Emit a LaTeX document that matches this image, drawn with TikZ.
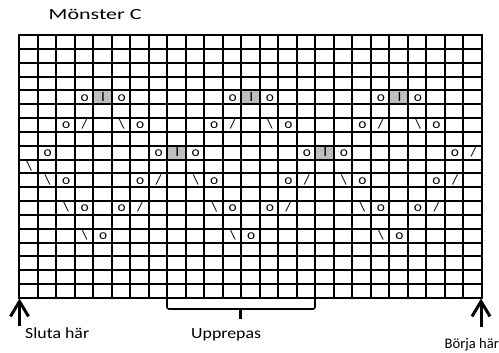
\documentclass[tikz,border=0pt]{standalone}
\usepackage{fontspec}
\setmainfont{Carlito}[FakeStretch=1.15]
\newfontfamily\symfont{Carlito}[FakeStretch=1.1]
\newfontfamily\titlefont{Carlito}[FakeStretch=1.42]
\newfontfamily\plainfont{Carlito}
\usetikzlibrary{arrows.meta}
\definecolor{greycell}{RGB}{191,191,191}
\tikzset{
  gridline/.style={line width=2pt, black},
  border/.style={line width=2pt, black},
  greyfill/.style={fill=greycell},
  sym/.style={inner sep=0pt, anchor=base, font=\symfont\fontsize{14}{16}\selectfont},
  lbl/.style={inner sep=0pt, anchor=base west, font=\fontsize{15.5}{18}\selectfont},
  bigarrow/.style={line width=3pt, -{Straight Barb[length=15pt,width=18pt]}},
  bracket/.style={line width=1.6pt, rounded corners=2pt},
  stem/.style={line width=2.8pt}
}
\begin{document}
\begin{tikzpicture}[x=1pt,y=-1pt]
\useasboundingbox (0,0) rectangle (499,353);
\def\cw{18.52}
\def\rh{13.842}
% grey cells
\foreach \c/\r in {4/5,12/5,20/5,8/9,16/9}
  \fill[greyfill] ({round(19+\c*\cw)},{round(35+(\r-1)*\rh)}) rectangle ({round(19+(\c+1)*\cw)},{round(35+\r*\rh)});
% grid
\foreach \i in {1,...,24}
  \draw[gridline] ({round(19+\i*\cw)},35) -- ({round(19+\i*\cw)},298);
\foreach \j in {1,...,18}
  \draw[gridline] (19,{round(35+\j*\rh)}) -- (482,{round(35+\j*\rh)});
\draw[border] (19,35) rectangle (482,298);
% symbols
\foreach \c/\r/\t in {
  3/5/o,4/5/I,5/5/o,11/5/o,12/5/I,13/5/o,19/5/o,20/5/I,21/5/o,
  2/7/o,3/7/{/},5/7/\textbackslash,6/7/o,
  10/7/o,11/7/{/},13/7/\textbackslash,14/7/o,
  18/7/o,19/7/{/},21/7/\textbackslash,22/7/o,
  1/9/o,7/9/o,8/9/I,9/9/o,15/9/o,16/9/I,17/9/o,23/9/o,24/9/{/},
  0/10/\textbackslash,
  1/11/\textbackslash,2/11/o,6/11/o,7/11/{/},
  9/11/\textbackslash,10/11/o,14/11/o,15/11/{/},
  17/11/\textbackslash,18/11/o,22/11/o,23/11/{/},
  2/13/\textbackslash,3/13/o,5/13/o,6/13/{/},
  10/13/\textbackslash,11/13/o,13/13/o,14/13/{/},
  18/13/\textbackslash,19/13/o,21/13/o,22/13/{/},
  3/15/\textbackslash,4/15/o,
  11/15/\textbackslash,12/15/o,
  19/15/\textbackslash,20/15/o}
  \node[sym] (s\r-\c) at ({19+(\c+0.5)*\cw+0.8},{35+(\r-0.5)*\rh+3.8}) {\t};
% labels
\node[lbl, font=\titlefont\fontsize{15.5}{18}\selectfont] (title) at (48.5,20) {Mönster C};
\node[lbl] (stop) at (25,338) {Sluta här};
\node[lbl] (rep) at (191,338) {Upprepas};
\node[lbl, font=\plainfont\fontsize{14.6}{17}\selectfont] (start) at (444.5,348.5) {Börja här};
% arrows
\coordinate (la0) at (19.5,326);
\coordinate (la1) at (19.5,298.5);
\coordinate (ra0) at (481,327);
\coordinate (ra1) at (481,298.5);
\draw[bigarrow] (la0) -- (la1);
\draw[bigarrow] (ra0) -- (ra1);
% bracket
\coordinate (b0) at (167,298);
\coordinate (b1) at (167,309);
\coordinate (b2) at (315,309);
\coordinate (b3) at (315,298);
\coordinate (bm0) at (240.5,309);
\coordinate (bm1) at (240.5,319);
\draw[bracket] (b0) -- (b1) -- (b2) -- (b3);
\draw[stem] (bm0) -- (bm1);
\end{tikzpicture}
\end{document}
